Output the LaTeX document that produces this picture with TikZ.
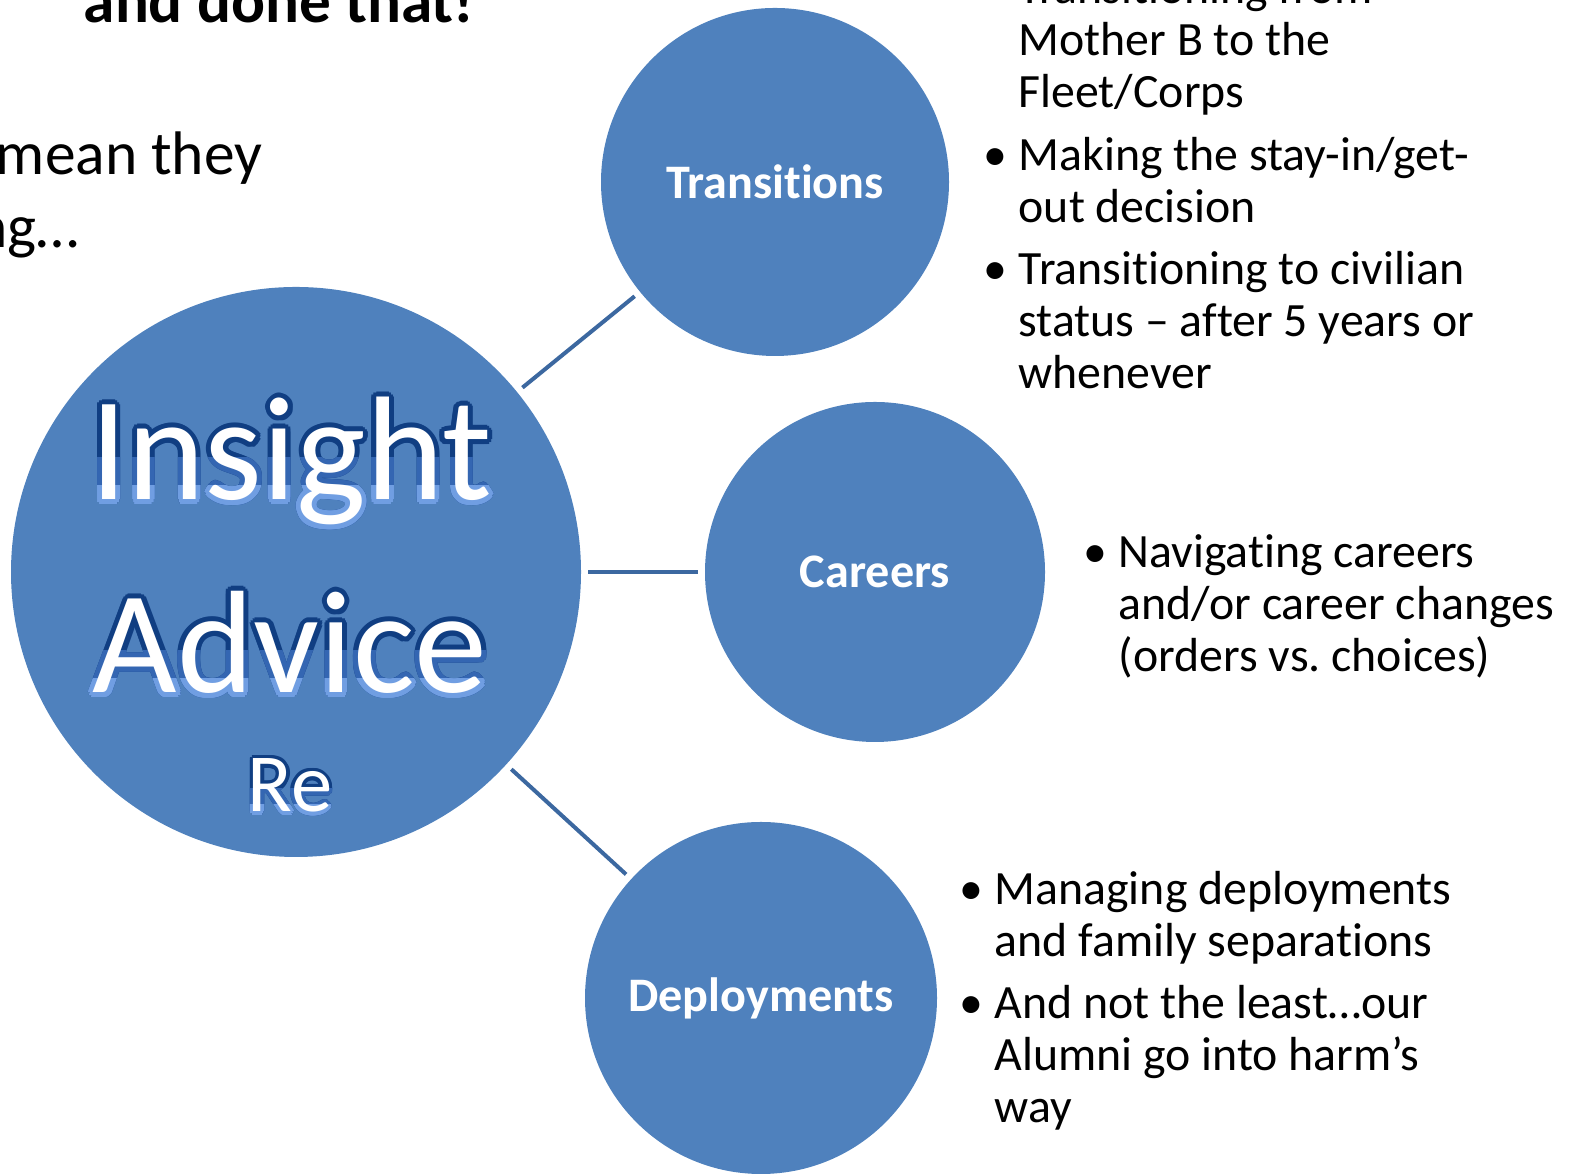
\documentclass[tikz,border=0pt]{standalone}
\usepackage{fontspec}
\setmainfont{Carlito}[Ligatures=CommonOff]
\usetikzlibrary{positioning}

\definecolor{discblue}{RGB}{79,129,189}
\definecolor{linkblue}{RGB}{60,104,160}
\definecolor{glowdark}{RGB}{16,62,130}
\definecolor{glowmid}{RGB}{52,102,178}
\definecolor{glowlight}{RGB}{112,158,226}

\newcommand{\bul}{\makebox[0.35cm][l]{\textbullet}}
\newcommand{\ind}{\hspace*{0.35cm}}

\begin{document}
\frenchspacing
\begin{tikzpicture}[
  disc/.style={circle, fill=discblue, draw=none, inner sep=0pt, outer sep=0.07cm,
    text=white, font=\bfseries\fontsize{13.7}{15}\selectfont},
  link/.style={draw=linkblue, line width=0.04cm},
  glyph/.style={inner sep=0pt, anchor=base},
  listtext/.style={align=left, inner sep=0pt, anchor=base west,
    font=\fontsize{13.6}{14.8}\selectfont},
  slidetext/.style={inner sep=0pt, anchor=base east, font=\fontsize{17.5}{20}\selectfont},
]
\useasboundingbox (0,0) rectangle (15.74,11.76);

% slide text behind the diagram
\node[slidetext, font=\bfseries\fontsize{18}{20}\selectfont] (done) at (4.75,11.53) {and done that!};
\node[slidetext] (mean) at (2.63,10.01) {mean they};
\node[slidetext] (ing) at (0.80,9.28) {ng\dots};

% circles
\node[disc, minimum size=5.70cm] (insight) at (2.96,6.04) {};
\node[disc, minimum size=3.48cm] (trans) at (7.75,9.94) {Transitions};
\node[disc, minimum size=3.40cm] (careers) at (8.75,6.04) {Careers};
\node[disc, minimum size=3.52cm] (deploy) at (7.61,1.78) {Deployments};

\draw[link] (insight) -- (trans);
\draw[link] (insight) -- (careers);
\draw[link] (insight) -- (deploy);

% outlined words in the big circle (word/x/y/size/outline/band)
\foreach \w/\px/\py/\fs/\r/\b in {Insight/2.91/6.76/42/0.05/1,
                                Advice/2.90/4.83/41.5/0.05/1,
                                Re/2.90/3.64/23.5/0.035/0.55} {
  \foreach \a in {0,30,...,330}
    \node[glyph, text=glowdark, font=\fontsize{\fs}{\fs}\selectfont]
      (\w d\a) at ({\px+\r*cos(\a)},{\py+\r*sin(\a)}) {\w};
  \begin{scope}
    \clip (\px-3,\py-1) rectangle (\px+3,\py+0.42*\b);
    \foreach \a in {0,30,...,330}
      \node[glyph, text=glowmid, font=\fontsize{\fs}{\fs}\selectfont]
        (\w m\a) at ({\px+\r*cos(\a)},{\py+\r*sin(\a)}) {\w};
  \end{scope}
  \begin{scope}
    \clip (\px-3,\py-1) rectangle (\px+3,\py+0.14*\b);
    \foreach \a in {0,30,...,330}
      \node[glyph, text=glowlight, font=\fontsize{\fs}{\fs}\selectfont]
        (\w l\a) at ({\px+\r*cos(\a)},{\py+\r*sin(\a)}) {\w};
  \end{scope}
  \node[glyph, text=white, font=\fontsize{\fs}{\fs}\selectfont] (\w w) at (\px,\py) {\w};
}

% bullet lists
\node[listtext] (translist) at (9.83,7.87) {%
  \bul Transitioning from\\
  \ind Mother B to the\\
  \ind Fleet/Corps\\[3.1pt]
  \bul Making the stay-in/get-\\
  \ind out decision\\[3.1pt]
  \bul Transitioning to civilian\\
  \ind status – after 5 years or\\
  \ind whenever};
\node[listtext] (carlist) at (10.83,5.04) {%
  \bul Navigating careers\\
  \ind and/or career changes\\
  \ind (orders vs. choices)};
\node[listtext] (deplist) at (9.59,0.53) {%
  \bul Managing deployments\\
  \ind and family separations\\[3.1pt]
  \bul And not the least\dots our\\
  \ind Alumni go into harm’s\\
  \ind way};

\end{tikzpicture}
\end{document}
